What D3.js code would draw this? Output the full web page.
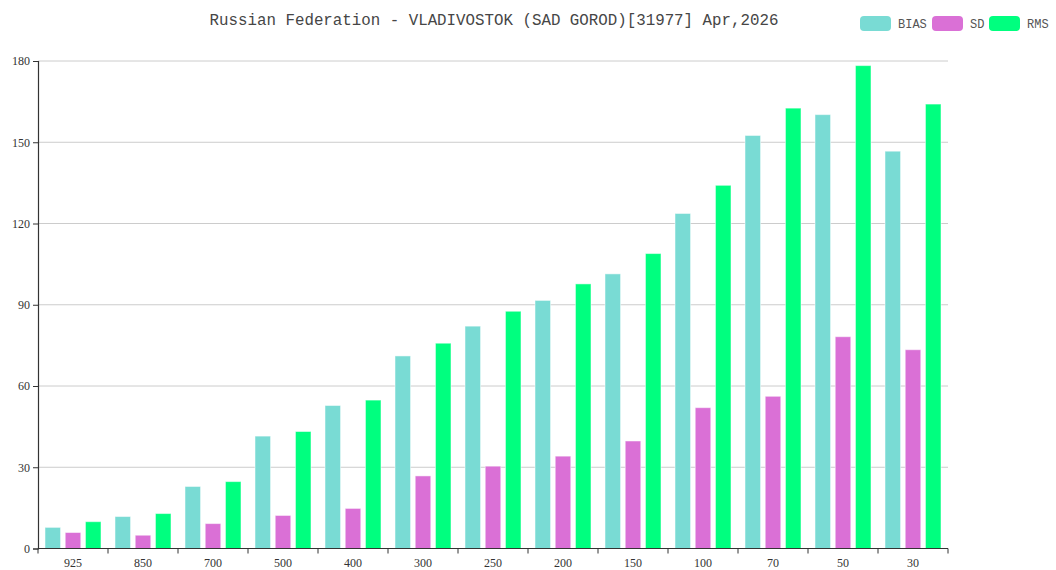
<!DOCTYPE html>
<html>
<head>
<meta charset="utf-8">
<script src="https://cdn.jsdelivr.net/npm/d3@7"></script>
<style>
  body { margin: 0; background: #fff; }
  svg { display: block; }
</style>
</head>
<body>
<svg id="chart" width="1056" height="570"></svg>
<script>
var levels = ["925", "850", "700", "500", "400", "300", "250", "200", "150", "100", "70", "50", "30"];
var bias = [7.8, 11.8, 22.9, 41.5, 52.8, 71.1, 82.1, 91.6, 101.4, 123.7, 152.5, 160.2, 146.7];
var sd   = [5.9, 4.9, 9.2, 12.2, 14.8, 26.8, 30.4, 34.1, 39.7, 52.0, 56.2, 78.2, 73.4];
var rms  = [9.9, 12.9, 24.7, 43.2, 54.8, 75.8, 87.6, 97.7, 108.9, 134.1, 162.6, 178.3, 164.1];
var yTicks = [0, 30, 60, 90, 120, 150, 180];
var seriesNames = ["BIAS", "SD", "RMS"];
var seriesColors = ["#79dbd4", "#da70d6", "#00ff7f"];

var series = [bias, sd, rms];
var svg = d3.select("#chart");
var mLeft = 38, mRight = 948, mTop = 61, mBottom = 548.5;

var x = d3.scaleBand().domain(levels).range([mLeft, mRight]);
var y = d3.scaleLinear().domain([0, 180]).range([mBottom, mTop]);

// title
svg.append("text").attr("x", 494).attr("y", 25).attr("text-anchor", "middle")
  .style("font-family", "'Liberation Mono', monospace").style("font-size", "15.8px")
  .style("fill", "#464646")
  .text("Russian Federation - VLADIVOSTOK (SAD GOROD)[31977] Apr,2026");

// grid
svg.append("g").selectAll("line").data(yTicks.slice(1)).enter().append("line")
  .attr("x1", mLeft).attr("x2", mRight)
  .attr("y1", d => y(d)).attr("y2", d => y(d))
  .style("stroke", "#cccccc").style("stroke-width", 1);

// bars, band 70 -> category gap 20%, bar gap 30%
var bw = x.bandwidth();
var barW = bw * 0.8 / 3.6;
var gap = barW * 0.3;
series.forEach(function(vals, si) {
  svg.append("g").selectAll("rect").data(vals).enter().append("rect")
    .attr("x", (d, i) => x(levels[i]) + bw * 0.1 + si * (barW + gap))
    .attr("y", d => y(d))
    .attr("width", barW)
    .attr("height", d => y(0) - y(d))
    .style("fill", seriesColors[si])
    .style("stroke", "rgba(255,255,255,0.5)").style("stroke-width", 1);
});

// axes
var yAxis = svg.append("g").attr("transform", "translate(" + mLeft + ",0)")
  .call(d3.axisLeft(y).tickValues(yTicks).tickSize(5).tickPadding(3));
var xAxis = svg.append("g").attr("transform", "translate(0," + mBottom + ")")
  .call(d3.axisBottom(x).tickSize(0).tickPadding(10));
xAxis.selectAll(".tick line").remove();
xAxis.append("g").selectAll("line").data(levels.concat(["end"])).enter().append("line")
  .attr("x1", (d, i) => mLeft + i * bw).attr("x2", (d, i) => mLeft + i * bw)
  .attr("y1", 0).attr("y2", 5).style("stroke", "#333");
[yAxis, xAxis].forEach(function(a) {
  a.select(".domain").style("stroke", "#333").style("stroke-width", 1.2);
  a.selectAll(".tick line").style("stroke", "#333");
  a.selectAll("text").style("font-family", "'Liberation Serif', serif")
    .style("font-size", "12px").style("fill", "#333");
});
xAxis.select(".domain").attr("d", "M" + mLeft + ",0H" + mRight);

// legend
var legX = [860, 932, 989];
var leg = svg.append("g").selectAll("g").data(seriesNames).enter().append("g")
  .attr("transform", (d, i) => "translate(" + legX[i] + ",16)");
leg.append("rect").attr("width", 31).attr("height", 15).attr("rx", 4)
  .style("fill", (d, i) => seriesColors[i]);
leg.append("text").attr("x", 38).attr("y", 12)
  .style("font-family", "'Liberation Mono', monospace").style("font-size", "12px")
  .style("fill", "#555").text(d => d);
</script>
</body>
</html>
